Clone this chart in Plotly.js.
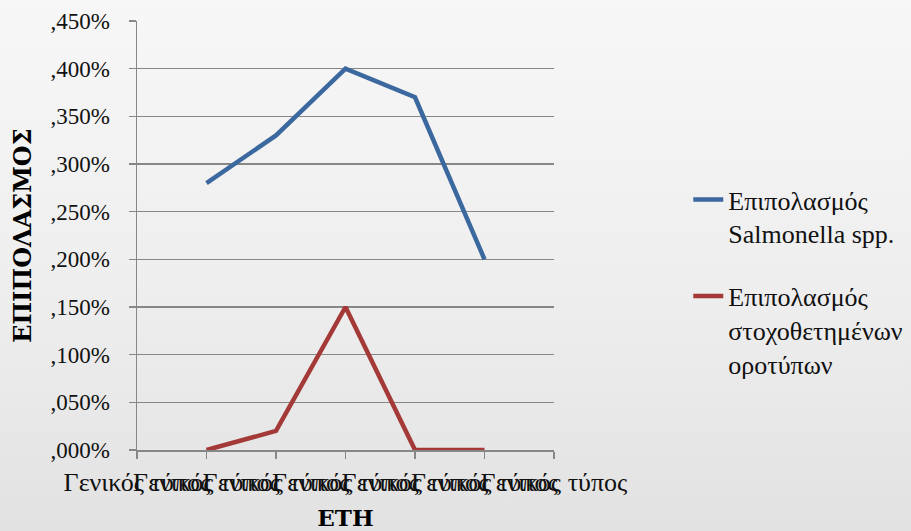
<!DOCTYPE html>
<html>
<head>
<meta charset="utf-8">
<script src="https://cdn.plot.ly/plotly-3.0.1.min.js"></script>
<style>
  html, body { margin: 0; padding: 0; }
  body {
    width: 911px; height: 531px; overflow: hidden;
    background: linear-gradient(to bottom, #f7f7f7 0%, #eeeeee 55%, #e2e2e2 100%);
  }
  #chart { width: 911px; height: 531px; }
</style>
</head>
<body>
<div id="chart"></div>
<script>
// Category labels along the x axis (one per tick)
const categories = [
  "Γενικός τύπος", "Γενικός τύπος", "Γενικός τύπος", "Γενικός τύπος",
  "Γενικός τύπος", "Γενικός τύπος", "Γενικός τύπος"
];

// Prevalence values in percent (empty at the two outer ticks)
const salmonella = [null, 0.28, 0.33, 0.40, 0.37, 0.20, null];
const targetSerotypes = [null, 0.00, 0.02, 0.15, 0.00, 0.00, null];

// Y axis tick values and their labels
const yTickValues = [0, 0.05, 0.10, 0.15, 0.20, 0.25, 0.30, 0.35, 0.40, 0.45];
const yTickLabels = [",000%", ",050%", ",100%", ",150%", ",200%", ",250%", ",300%", ",350%", ",400%", ",450%"];

const seriesNames = [
  "Επιπολασμός<br>Salmonella spp.",
  "Επιπολασμός<br>στοχοθετημένων<br>οροτύπων"
];

const xPos = categories.map((_, i) => i);
const serif = "'Liberation Serif', 'Times New Roman', serif";
// bold Greek titles need a face that carries bold Greek glyphs
const boldSerif = "'DejaVu Serif', serif";
const gridGrey = "#878787";

const traces = [
  {
    x: xPos, y: salmonella, name: seriesNames[0], legendgroup: "a",
    type: "scatter", mode: "lines",
    line: { color: "#3b689e", width: 4.5 },
    connectgaps: false, hoverinfo: "skip"
  },
  {
    x: xPos, y: targetSerotypes, name: seriesNames[1], legendgroup: "b",
    type: "scatter", mode: "lines",
    line: { color: "#a33a38", width: 4.5 },
    connectgaps: false, hoverinfo: "skip"
  }
];

const layout = {
  width: 911, height: 531,
  margin: { l: 137, r: 357, t: 21, b: 81, autoexpand: false },
  paper_bgcolor: "rgba(0,0,0,0)",
  plot_bgcolor: "rgba(0,0,0,0)",
  font: { family: serif, color: "#111111" },
  showlegend: true,
  legend: {
    x: 1.322, xanchor: "left",
    y: 1 - (176 - 21) / (450 - 21), yanchor: "top",
    font: { family: serif, size: 26, color: "#111111" },
    traceorder: "grouped", tracegroupgap: 26,
    valign: "top", bgcolor: "rgba(0,0,0,0)"
  },
  xaxis: {
    range: [0, categories.length - 1],
    tickmode: "array", tickvals: xPos, ticktext: categories,
    tickangle: 0,
    ticks: "outside", ticklen: 7, tickwidth: 1.5, tickcolor: gridGrey,
    showline: true, linecolor: gridGrey, linewidth: 1.5,
    showgrid: false, zeroline: false,
    tickfont: { family: serif, size: 26, color: "#111111" },
    ticklabelstandoff: 1,
    automargin: false,
    title: { text: "<b>ΕΤΗ</b>", font: { family: boldSerif, size: 23, color: "#000" }, standoff: 14 },
    fixedrange: true
  },
  yaxis: {
    range: [0, 0.45],
    tickmode: "array", tickvals: yTickValues, ticktext: yTickLabels,
    ticks: "outside", ticklen: 7, tickwidth: 1.5, tickcolor: gridGrey,
    showline: true, linecolor: gridGrey, linewidth: 1.5,
    showgrid: true, gridcolor: gridGrey, gridwidth: 1.5,
    zeroline: false,
    tickfont: { family: serif, size: 23, color: "#111111" },
    ticklabelstandoff: 14,
    automargin: false,
    title: { text: "<b>ΕΠΙΠΟΛΑΣΜΟΣ</b>", font: { family: boldSerif, size: 24, color: "#000" }, standoff: 12 },
    fixedrange: true
  }
};

Plotly.newPlot("chart", traces, layout, { displayModeBar: false, staticPlot: true });
</script>
</body>
</html>
